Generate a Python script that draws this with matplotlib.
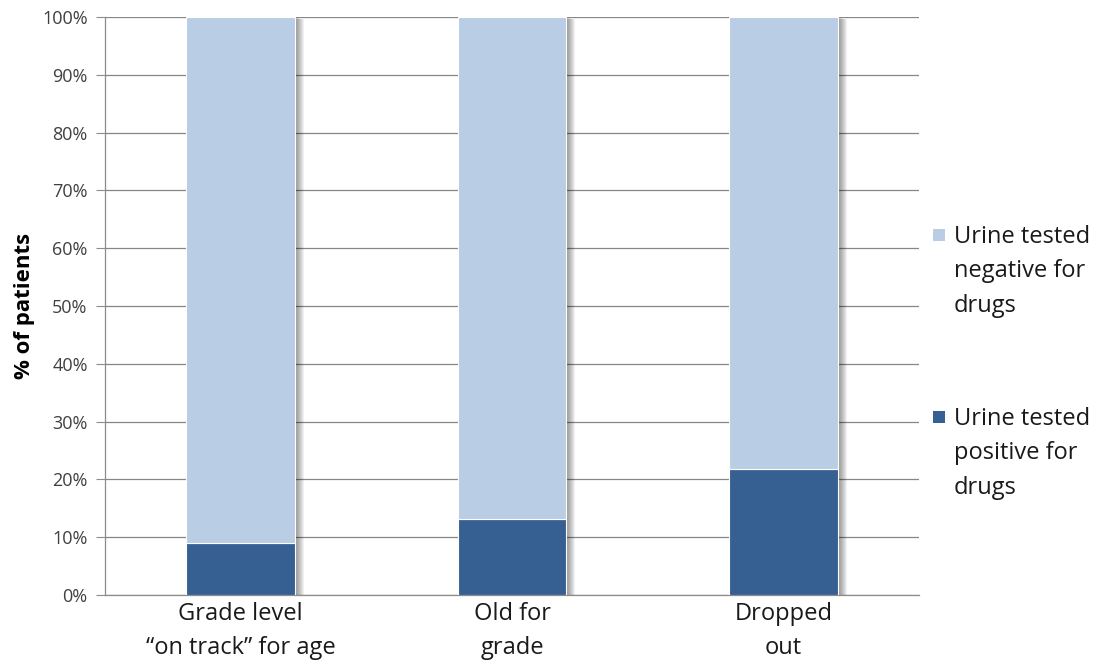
import matplotlib
matplotlib.use("Agg")
import matplotlib.pyplot as plt
import matplotlib.transforms as mtransforms
from matplotlib.patches import Rectangle

plt.rcParams['font.family'] = ['Open Sans', 'DejaVu Sans']

categories = ["Grade level\n\u201con track\u201d for age", "Old for\ngrade", "Dropped\nout"]
positive = [9.0, 13.1, 21.8]
negative = [100 - v for v in positive]
series_labels = ["Urine tested\nnegative for\ndrugs", "Urine tested\npositive for\ndrugs"]
y_ticks = list(range(0, 101, 10))

c_pos = "#376092"
c_neg = "#B9CDE5"
grey = "#8C8C8C"

fig = plt.figure(figsize=(11.01, 6.64), dpi=100)
ax = fig.add_axes([105 / 1101, 1 - 595 / 664, (919 - 105) / 1101, (595 - 17) / 664])

x = list(range(len(categories)))
width = 0.4

# soft drop shadow to the right of each stacked column
for k in range(1, 10):
    tr = mtransforms.offset_copy(ax.transData, fig=fig, x=k, y=-k * 0.25, units='dots')
    for xi, p, n in zip(x, positive, negative):
        ax.add_patch(Rectangle((xi - width / 2, 0), width, p + n, transform=tr,
                               facecolor="black", alpha=0.055, edgecolor="none", zorder=1.5))

ax.bar(x, positive, width, color=c_pos, edgecolor="white", linewidth=0.8, zorder=3)
ax.bar(x, negative, width, bottom=positive, color=c_neg, edgecolor="white", linewidth=0.8, zorder=3)

ax.set_xlim(-0.5, 2.5)
ax.set_ylim(0, 100)
ax.set_yticks(y_ticks)
ax.set_yticklabels([f"{t}%" for t in y_ticks], fontsize=13, color="#404040")
ax.set_xticks(x)
ax.set_xticklabels(categories, fontsize=17, color="#1a1a1a", linespacing=1.58)
ax.tick_params(axis='x', length=0, pad=5)
ax.tick_params(axis='y', length=6.5, width=0.8, color=grey, pad=6)

ax.yaxis.grid(True, color="#868686", linewidth=0.9, zorder=0)
ax.set_axisbelow(True)
for s in ("top", "right"):
    ax.spines[s].set_visible(False)
for s in ("left", "bottom"):
    ax.spines[s].set_color(grey)
    ax.spines[s].set_linewidth(0.9)

ax.set_ylabel("% of patients", fontsize=16, fontweight="bold", labelpad=5)

# legend drawn beside the plot, marker aligned with the first line
legend_items = [(series_labels[0], c_neg, 235), (series_labels[1], c_pos, 417)]
for label, col, ypix in legend_items:
    fig.patches.append(Rectangle((933 / 1101, 1 - (ypix + 6) / 664), 12 / 1101, 12 / 664,
                                 transform=fig.transFigure, facecolor=col, edgecolor="none"))
    fig.text(954 / 1101, 1 - (ypix - 10) / 664, label, fontsize=17, color="#1a1a1a",
             va="top", ha="left", linespacing=1.58)

fig.savefig("out.png", dpi=100)
